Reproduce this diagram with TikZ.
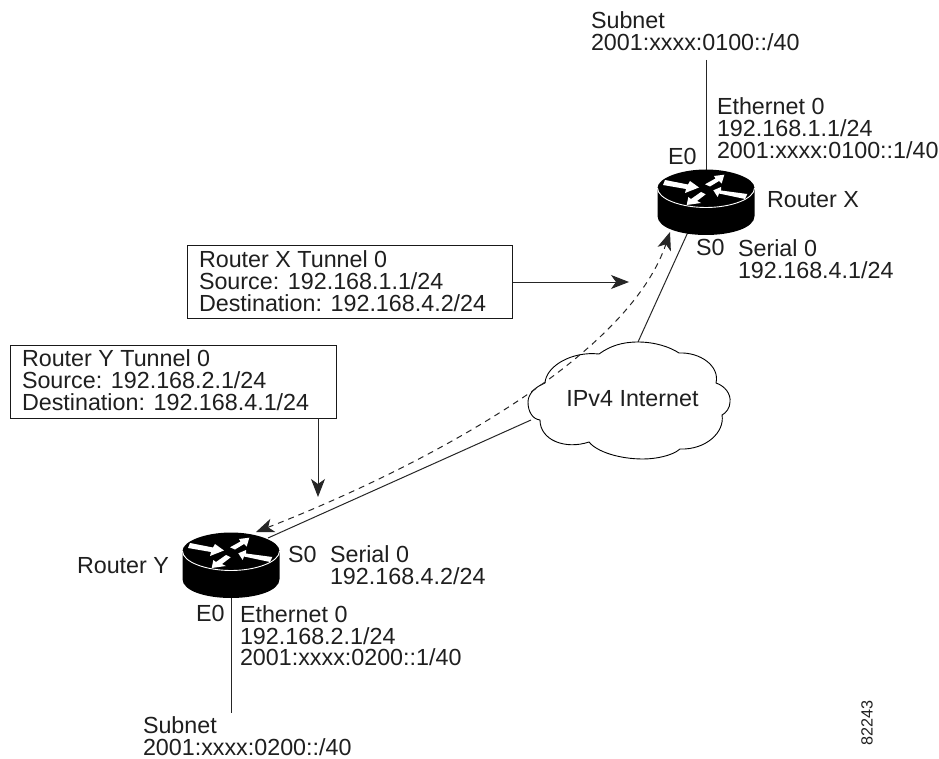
\documentclass[tikz,border=0pt]{standalone}
\usepackage{fontspec}
\setmainfont{Liberation Sans}
\usetikzlibrary{arrows.meta}
\tikzset{x=1pt,y=-1pt,
 lbl/.style={inner sep=0pt,outer sep=0pt,anchor=north west,align=left,font=\fontsize{23.3}{21.8}\selectfont,text=black!88},
 boxed/.style={draw=black!90,line width=1.4pt},
 conn/.style={draw=black!85,line width=1pt},
 dashconn/.style={draw=black!85,line width=1pt,dash pattern=on 6pt off 5pt},
 arr/.style={-{Stealth[length=18pt,width=14pt,inset=5pt]}},
 darr/.style={{Stealth[length=18pt,width=14pt,inset=5pt]}-{Stealth[length=18pt,width=14pt,inset=5pt]}},
}
\newcommand{\routerdraw}[2]{%
 \begin{scope}[shift={(#1,#2)}]
  \fill[black] (-48.5,0) -- (-48.5,28) .. controls (-48.5,40) and (-25,47) .. (0,47) .. controls (25,47) and (48.5,40) .. (48.5,28) -- (48.5,0) -- cycle;
  \fill[black] (-48.5,0) .. controls (-48.5,-10) and (-25,-18.5) .. (0,-18.5) .. controls (25,-18.5) and (48.5,-10) .. (48.5,0) -- cycle;
  \draw[white,line width=.9pt] (-48.5,0) .. controls (-48.5,11) and (-25,19.5) .. (0,19.5) .. controls (25,19.5) and (48.5,11) .. (48.5,0);
  \fill[white] (-41,-8) -- (-18,-3.5) -- (-16,-7) -- (-7,-0.5) -- (-21,5) -- (-20,1) -- (-43,-3) -- cycle;
  \fill[white] (18.3,-13.3) -- (8,-12) -- (9.5,-9.5) -- (-1,-3.7) -- (4,-1.5) -- (13,-7) -- (15.7,-4.5) -- cycle;
  \fill[white] (7.3,2.3) -- (15,-1) -- (15,2.5) -- (41.3,6) -- (39,11) -- (13,5.5) -- (11.7,9) -- cycle;
  \fill[white] (-19.3,17) -- (-17.7,9) -- (-15,11) -- (-5,4) -- (-0.3,6.3) -- (-9,13) -- (-5,15) -- cycle;
 \end{scope}}
\begin{document}
\begin{tikzpicture}
\useasboundingbox (0,0) rectangle (939,759);
\fill[white] (0,0) rectangle (939,759);
\coordinate (subx) at (706,60);
\coordinate (rxtop) at (706,170);
\draw[conn] (subx) -- (rxtop);
\coordinate (rxs) at (688,232);
\coordinate (cloudtop) at (638,342);
\draw[conn] (rxs) -- (cloudtop);
\coordinate (cloudleft) at (531,420);
\coordinate (rys) at (268,538);
\draw[conn] (cloudleft) -- (rys);
\coordinate (rybot) at (231,597);
\coordinate (suby) at (231,713);
\draw[conn] (rybot) -- (suby);
% cloud
\draw[fill=white,draw=black,line width=.9pt] (528,402)
 .. controls (528,394) and (535,387) .. (545,383)
 .. controls (546,366) and (572,351) .. (599,354)
 .. controls (610,346) and (622,342) .. (638,342)
 .. controls (655,342) and (670,347) .. (679,353)
 .. controls (700,352) and (720,366) .. (716,383)
 .. controls (725,386) and (731,394) .. (730,402)
 .. controls (730,408) and (726,413) .. (722,415)
 .. controls (725,432) and (706,450) .. (680,449)
 .. controls (672,456) and (655,459) .. (643,459)
 .. controls (620,459) and (597,452) .. (589,442)
 .. controls (565,450) and (540,440) .. (540,420)
 .. controls (532,419) and (528,411) .. (528,402) -- cycle;
\node[lbl,anchor=center] (inet) at (632.5,399) {IPv4 Internet};
% tunnel
\coordinate (ta) at (670,232);
\coordinate (tb) at (256,532);
\draw[dashconn,darr] (tb) .. controls (400,476) and (625,365) .. (ta);
% routers
\routerdraw{706}{188}
\routerdraw{231}{551}
% Boxes
\node[boxed,minimum width=325pt,minimum height=73pt,inner sep=0pt,anchor=north west] (bx) at (187,245) {};
\node[boxed,minimum width=326pt,minimum height=73pt,inner sep=0pt,anchor=north west] (by) at (10,345) {};
\coordinate (bxa) at (629,282);
\coordinate (byb) at (318,418);
\coordinate (byt) at (318,497);
\draw[conn,arr] (bx.east |- bxa) -- (bxa);
\draw[conn,arr] (byb) -- (byt);
\node[lbl] (t1) at (199,251) {Router X Tunnel 0\\Source: 192.168.1.1/24\\Destination: 192.168.4.2/24};
\node[lbl] (t2) at (22,350) {Router Y Tunnel 0\\Source: 192.168.2.1/24\\Destination: 192.168.4.1/24};
% labels
\node[lbl] (a) at (591,11.5) {Subnet\\2001:xxxx:0100::/40};
\node[lbl] (b) at (717,98) {Ethernet 0\\192.168.1.1/24\\2001:xxxx:0100::1/40};
\node[lbl] (c) at (668,148) {E0};
\node[lbl] (d) at (767,191.5) {Router X};
\node[lbl] (e) at (696,239.5) {S0};
\node[lbl] (f) at (738,239.5) {Serial 0\\192.168.4.1/24};
\node[lbl] (g) at (77,557) {Router Y};
\node[lbl] (h) at (288,546) {S0};
\node[lbl] (i) at (330,546) {Serial 0\\192.168.4.2/24};
\node[lbl] (j) at (196,605.5) {E0};
\node[lbl] (k) at (240,605.5) {Ethernet 0\\192.168.2.1/24\\2001:xxxx:0200::1/40};
\node[lbl] (l) at (143,716.5) {Subnet\\2001:xxxx:0200::/40};
\node[lbl,rotate=90,anchor=center,font=\fontsize{16.2}{16.2}\selectfont] (m) at (867,722.5) {82243};
\end{tikzpicture}
\end{document}
